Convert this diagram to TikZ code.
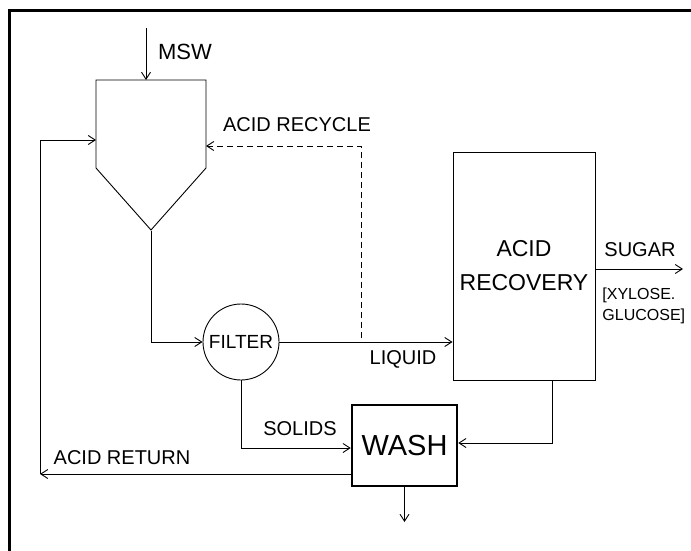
\documentclass[tikz,border=0pt]{standalone}
\usepackage{fontspec}
\setmainfont{Liberation Sans}
\usetikzlibrary{arrows.meta,positioning}

\tikzset{
  flow/.style={line width=0.9pt, -{Straight Barb[length=7pt,width=9pt]}},
  unit/.style={draw, line width=0.9pt, inner sep=0pt},
  tag/.style={inner sep=0pt, font=\fontsize{20}{24}\selectfont},
}

\begin{document}
\begin{tikzpicture}[x=1pt, y=-1pt, line width=0.9pt]
  \useasboundingbox (0,0) rectangle (691,551);
  % frame
  \draw[line width=3pt] (9,551) -- (9,11) -- (691,11);

  % hopper
  \draw (96,80) -- (206,80) -- (206,168) -- (151,230) -- (96,168) -- cycle;
  \coordinate (hopTop) at (146,80);
  \coordinate (hopOut) at (151,231);
  \coordinate (hopR) at (206,146);
  \coordinate (hopL) at (96,140);

  % units
  \node[unit, circle, minimum size=76pt,
        font=\fontsize{19}{22}\selectfont] (filter) at (241,342) {FILTER};
  \node[unit, minimum width=142pt, minimum height=228pt, align=center,
        font=\fontsize{23}{34}\selectfont] (recovery) at (524,266) {ACID\\RECOVERY};
  \node[unit, line width=2.5pt, minimum width=105pt, minimum height=81pt,
        font=\fontsize{29}{32}\selectfont] (wash) at (404.5,445.5) {WASH};

  % free ends
  \coordinate (mswIn) at (146,28);
  \coordinate (rcyc) at (361,338);
  \coordinate (sugarOut) at (683,269);
  \coordinate (recBot) at (552,380);
  \coordinate (retCorner) at (40,474);
  \coordinate (washOut) at (404.5,522);

  % streams
  \draw[flow] (mswIn) -- (hopTop);
  \draw[flow] (hopOut) |- (filter.west);
  \draw[flow] (filter.east) -- (filter.east -| recovery.west);
  \draw[flow, dashed, dash pattern=on 6pt off 4pt] (rcyc) |- (hopR);
  \draw[flow] (recovery.east |- sugarOut) -- (sugarOut);
  \draw[flow] (recBot) |- ([yshift=2.5pt]wash.east);
  \draw[flow] (filter.south) |- ([yshift=-2.5pt]wash.west);
  \draw[flow] ([yshift=-28.5pt]wash.west) -- (retCorner);
  \draw[flow] (retCorner) |- (hopL);
  \draw[flow] (wash.south) -- (washOut);

  % labels
  \node[tag, font=\fontsize{22}{24}\selectfont] (msw) at (185,52) {MSW};
  \node[tag] (recycle) at (297,125) {ACID RECYCLE};
  \node[tag] (acidret) at (122,458) {ACID RETURN};
  \node[tag] (sugar) at (640,250) {SUGAR};
  \node[tag, anchor=west, align=left, font=\fontsize{16}{21}\selectfont]
    (sugars) at (602,306) {[XYLOSE.\\GLUCOSE]};
  \node[tag] (liquid) at (403,359) {LIQUID};
  \node[tag] (solids) at (300,429) {SOLIDS};
\end{tikzpicture}
\end{document}
